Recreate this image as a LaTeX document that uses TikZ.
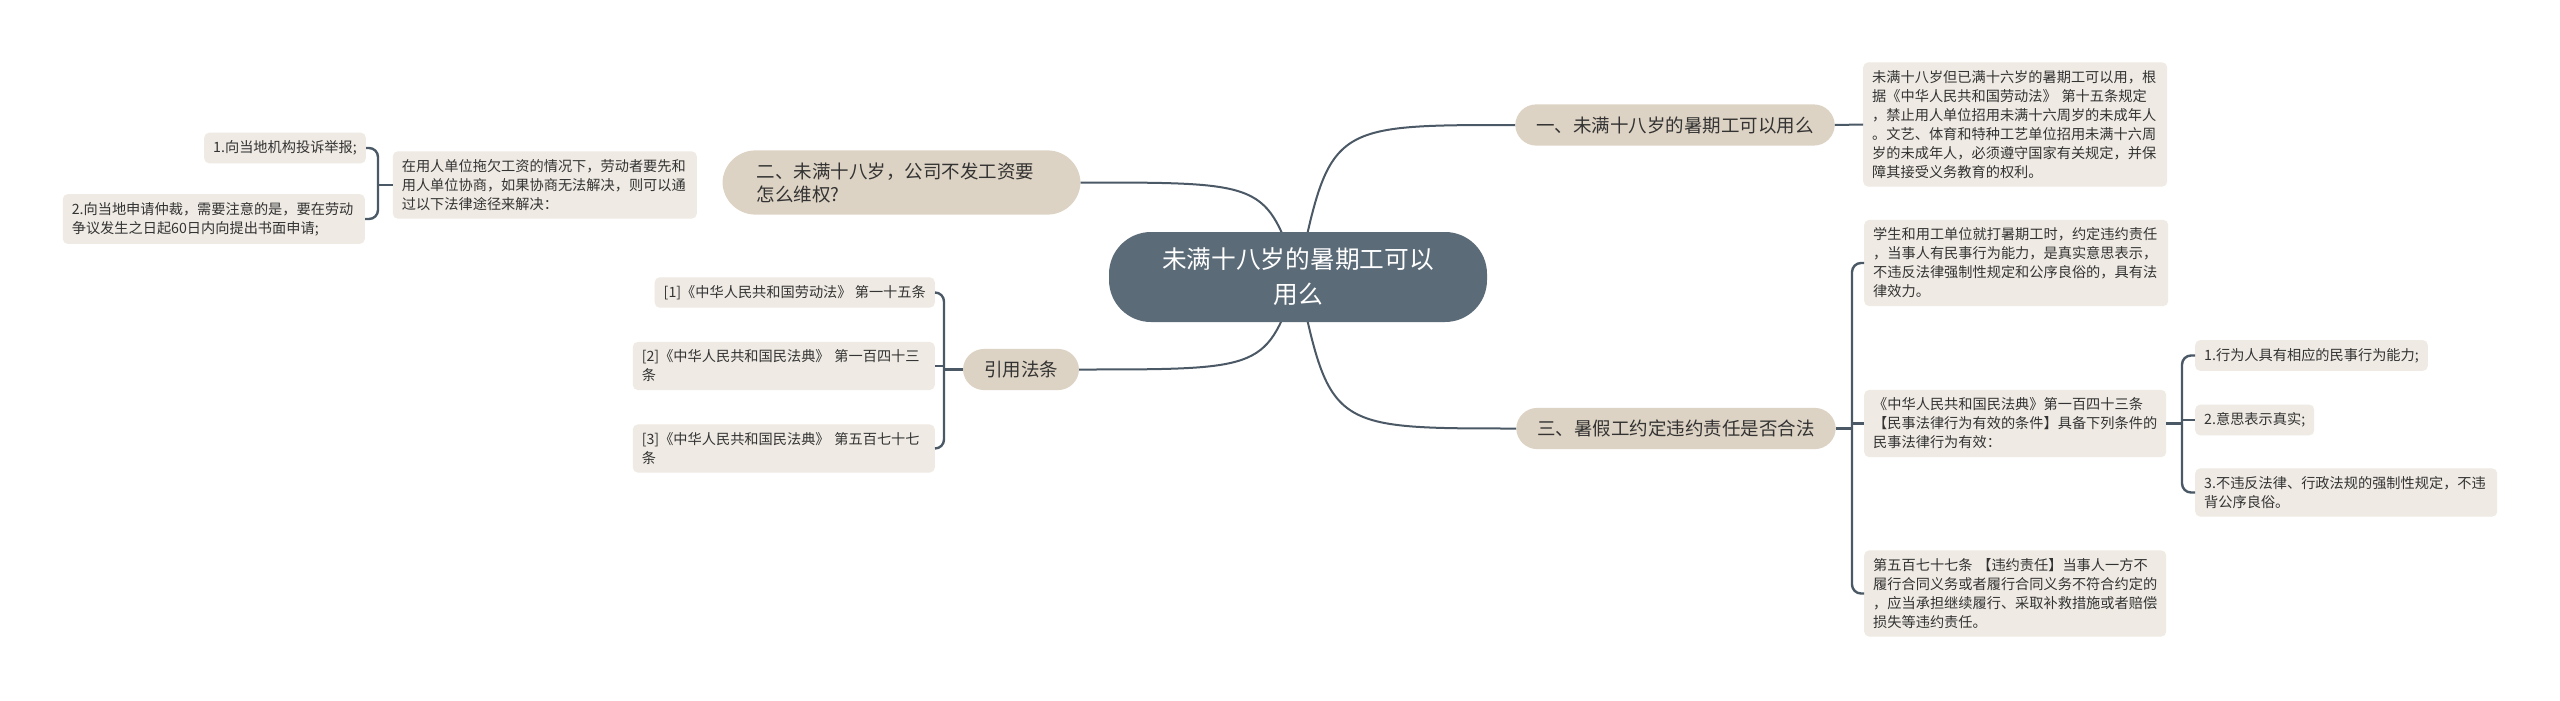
\documentclass[tikz,border=0pt]{standalone}
\usepackage{fontspec}
\setmainfont{Noto Sans CJK SC}
\definecolor{cfill}{HTML}{5B6B78}
\definecolor{bfill}{HTML}{DDD3C4}
\definecolor{lfill}{HTML}{EFEBE4}
\definecolor{lnc}{HTML}{4A5965}
\definecolor{txt}{HTML}{333333}
\begin{document}
\begin{tikzpicture}[x=1pt,y=-1pt,
  root/.style={fill=cfill, text=white, rounded corners=42pt, minimum width=378pt, minimum height=90pt, align=center, font=\fontsize{24.7}{35}\selectfont, inner sep=0pt},
  branch/.style={fill=bfill, text=txt, rounded corners=21pt, inner xsep=21pt, inner ysep=12pt, font=\fontsize{18.5}{23}\selectfont, align=left},
  leaf/.style={fill=lfill, text=txt, rounded corners=5pt, font=\fontsize{14.2}{19}\selectfont, align=left, inner xsep=9pt, inner ysep=8pt},
  conn/.style={draw=lnc, line width=2pt},
  brk/.style={draw=lnc, line width=2.4pt, rounded corners=9pt}]
\useasboundingbox[fill=white] (0,0) rectangle (2560,701);

% nodes (positions)
\coordinate (rc) at (1298,277);
\node[branch] (b1) at (1675,125) {一、未满十八岁的暑期工可以用么};
\node[branch] (b3) at (1676,428.5) {三、暑假工约定违约责任是否合法};
\node[branch, rounded corners=33pt, inner xsep=34pt, text width=290pt] (b2) at (901.5,182.5) {二、未满十八岁，公司不发工资要\\怎么维权?};
\node[branch] (cite) at (1021,369.5) {引用法条};

% main curves (behind root)
\draw[conn] (rc) .. controls (1330,125) .. (b1.west);
\draw[conn] (rc) .. controls (1330,428.5) .. (b3.west);
\draw[conn] (rc) .. controls (1266,182.5) .. (b2.east);
\draw[conn] (rc) .. controls (1266,369.5) .. (cite.east);

\node[root] (root) at (rc) {未满十八岁的暑期工可以\\用么};

% right side leaves
\node[leaf, anchor=west, text width=286pt] (l1) at (1863,124.5) {未满十八岁但已满十六岁的暑期工可以用，根\\据《中华人民共和国劳动法》 第十五条规定\\，禁止用人单位招用未满十六周岁的未成年人\\。文艺、体育和特种工艺单位招用未满十六周\\岁的未成年人，必须遵守国家有关规定，并保\\障其接受义务教育的权利。};
\node[leaf, anchor=west, text width=286pt] (l2) at (1864,263) {学生和用工单位就打暑期工时，约定违约责任\\，当事人有民事行为能力，是真实意思表示，\\不违反法律强制性规定和公序良俗的，具有法\\律效力。};
\node[leaf, anchor=west, text width=284pt] (l3) at (1864,423.5) {《中华人民共和国民法典》第一百四十三条\\【民事法律行为有效的条件】具备下列条件的\\民事法律行为有效：};
\node[leaf, anchor=west, text width=284pt] (l4) at (1864,593.5) {第五百七十七条 【违约责任】当事人一方不\\履行合同义务或者履行合同义务不符合约定的\\，应当承担继续履行、采取补救措施或者赔偿\\损失等违约责任。};

\node[leaf, anchor=west] (s1) at (2195,355.5) {1.行为人具有相应的民事行为能力;};
\node[leaf, anchor=west] (s2) at (2195,420) {2.意思表示真实;};
\node[leaf, anchor=west, text width=284pt] (s3) at (2195,492.5) {3.不违反法律、行政法规的强制性规定，不违\\背公序良俗。};

% left side leaves
\node[leaf, anchor=east, text width=286pt] (lA) at (697,185) {在用人单位拖欠工资的情况下，劳动者要先和\\用人单位协商，如果协商无法解决，则可以通\\过以下法律途径来解决：};
\node[leaf, anchor=east] (a1) at (366,148) {1.向当地机构投诉举报;};
\node[leaf, anchor=east, text width=284pt] (a2) at (365,219) {2.向当地申请仲裁，需要注意的是，要在劳动\\争议发生之日起60日内向提出书面申请;};

\node[leaf, anchor=east] (c1) at (935,292.5) {[1]《中华人民共和国劳动法》 第一十五条};
\node[leaf, anchor=east, text width=284pt] (c2) at (935,366) {[2]《中华人民共和国民法典》 第一百四十三\\条};
\node[leaf, anchor=east, text width=284pt] (c3) at (935,448.5) {[3]《中华人民共和国民法典》 第五百七十七\\条};

% trunks
\coordinate (t3) at (1852,428.5);
\coordinate (ts) at (2182,423.5);
\coordinate (tl) at (378,185);
\coordinate (tc) at (944,369.5);

% connectors
\draw[conn] (b1.east) -- (l1.west);

\draw[brk] (l2.west) -| (t3) |- (l4.west);
\draw[brk] (b3.east) -- (t3);
\draw[brk] (t3 |- l3.west) -- (l3.west);

\draw[brk] (s1.west) -| (ts) |- (s3.west);
\draw[brk] (l3.east) -- (ts);
\draw[brk] (ts |- s2.west) -- (s2.west);

\draw[brk] (a1.east) -| (tl) |- (a2.east);
\draw[brk] (lA.west) -- (tl);

\draw[brk] (c1.east) -| (tc) |- (c3.east);
\draw[brk] (cite.west) -- (tc);
\draw[brk] (tc |- c2.east) -- (c2.east);
\end{tikzpicture}
\end{document}
